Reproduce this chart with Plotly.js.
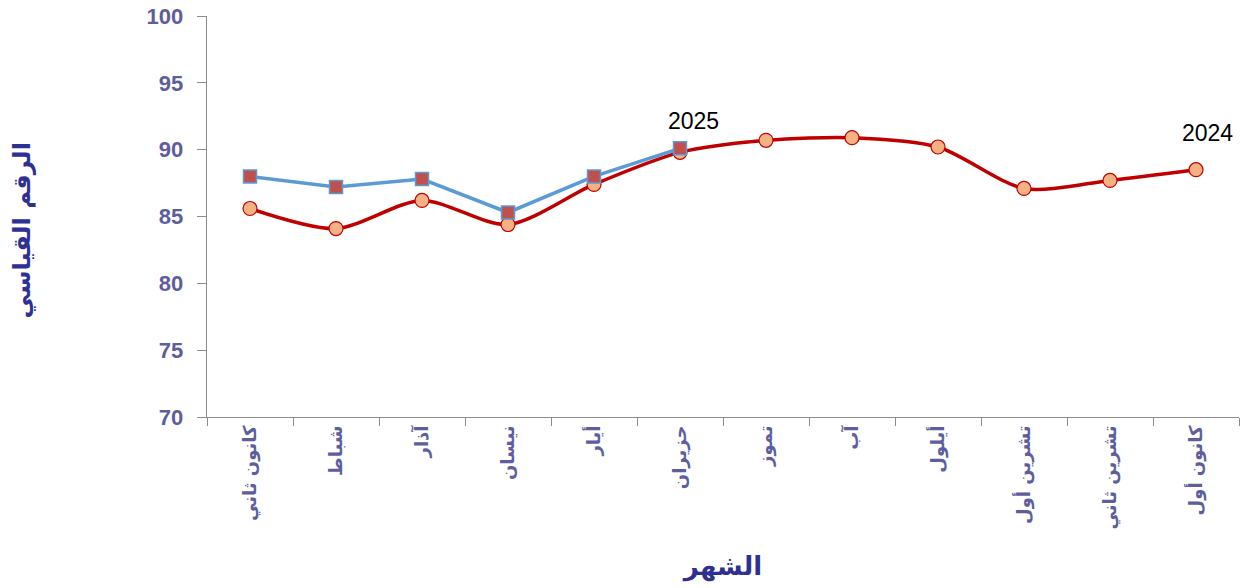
<!DOCTYPE html>
<html>
<head>
<meta charset="utf-8">
<script src="https://cdn.plot.ly/plotly-3.0.1.min.js"></script>
<style>html,body{margin:0;padding:0;background:#fff;}#chart{width:1248px;height:588px;}</style>
</head>
<body>
<div id="chart"></div>
<script>
const months = ["كانون ثاني","شباط","آذار","نيسان","أيار","حزيران","تموز","آب","أيلول","تشرين أول","تشرين ثاني","كانون أول"];
const values2024 = [85.6, 84.1, 86.2, 84.4, 87.4, 89.8, 90.7, 90.9, 90.2, 87.1, 87.7, 88.5];
const values2025 = [88.0, 87.2, 87.8, 85.3, 88.0, 90.1];
const seriesNames = ["2024", "2025"];
const yTicks = [70, 75, 80, 85, 90, 95, 100];
const xTitle = "الشهر";
const yTitle = "الرقم القياسي";

const tickColor = "#5E5E9E";
const titleColor = "#2E3192";
const arabicFont = "DejaVu Sans";

const traces = [
  {
    x: months, y: values2024, name: seriesNames[0], type: "scatter", mode: "lines+markers",
    line: {color: "#C00000", width: 3.5, shape: "spline", smoothing: 0.8},
    marker: {symbol: "circle", size: 14, color: "#F4B183", line: {color: "#C00000", width: 1.2}},
    hoverinfo: "skip"
  },
  {
    x: months.slice(0, values2025.length), y: values2025, name: seriesNames[1], type: "scatter", mode: "lines+markers",
    line: {color: "#5B9BD5", width: 3.5},
    marker: {symbol: "square", size: 13, color: "#C0504D", line: {color: "#5B9BD5", width: 1.5}},
    hoverinfo: "skip"
  }
];

const annotations = [
  {x: months[values2025.length - 1], y: values2025[values2025.length - 1], text: seriesNames[1], yshift: 27, xshift: 13},
  {x: months[months.length - 1], y: values2024[values2024.length - 1], text: seriesNames[0], yshift: 37, xshift: 11}
].map(a => Object.assign(a, {xref: "x", yref: "y", showarrow: false, font: {family: "Liberation Sans", size: 23, color: "#000"}}));

annotations.push({
  xref: "paper", yref: "paper", x: -0.179, y: 0.466, xshift: -16, textangle: -90, showarrow: false,
  text: "<b>" + yTitle + "</b>", font: {family: arabicFont, size: 24, color: titleColor}
});

const layout = {
  width: 1248, height: 588,
  margin: {l: 207, r: 9, t: 16, b: 171},
  paper_bgcolor: "#fff", plot_bgcolor: "#fff",
  showlegend: false,
  annotations: annotations,
  xaxis: {
    type: "category", categoryorder: "array", categoryarray: months,
    tickangle: -90, tickson: "boundaries", ticks: "outside", ticklen: 8, tickcolor: "#8C8C8C",
    showline: true, linecolor: "#8C8C8C", linewidth: 1.3, showgrid: false, zeroline: false,
    tickvals: months, ticktext: months.map(m => "<b>" + m + "</b>"),
    tickfont: {family: arabicFont, size: 18, color: tickColor},
    title: {text: "<b>" + xTitle + "</b>", font: {family: arabicFont, size: 26, color: titleColor}, standoff: 28},
    range: [-0.5, 11.5], fixedrange: true
  },
  yaxis: {
    range: [70, 100], tickvals: yTicks, ticktext: yTicks.map(v => "<b>" + v + "</b>"),
    ticks: "outside", ticklen: 9, tickcolor: "#8C8C8C", ticklabelstandoff: 9,
    showline: true, linecolor: "#8C8C8C", linewidth: 1.3, showgrid: false, zeroline: false,
    tickfont: {family: "Liberation Sans", size: 22, color: tickColor},
    fixedrange: true
  }
};

Plotly.newPlot("chart", traces, layout, {displayModeBar: false, staticPlot: true});
</script>
</body>
</html>
